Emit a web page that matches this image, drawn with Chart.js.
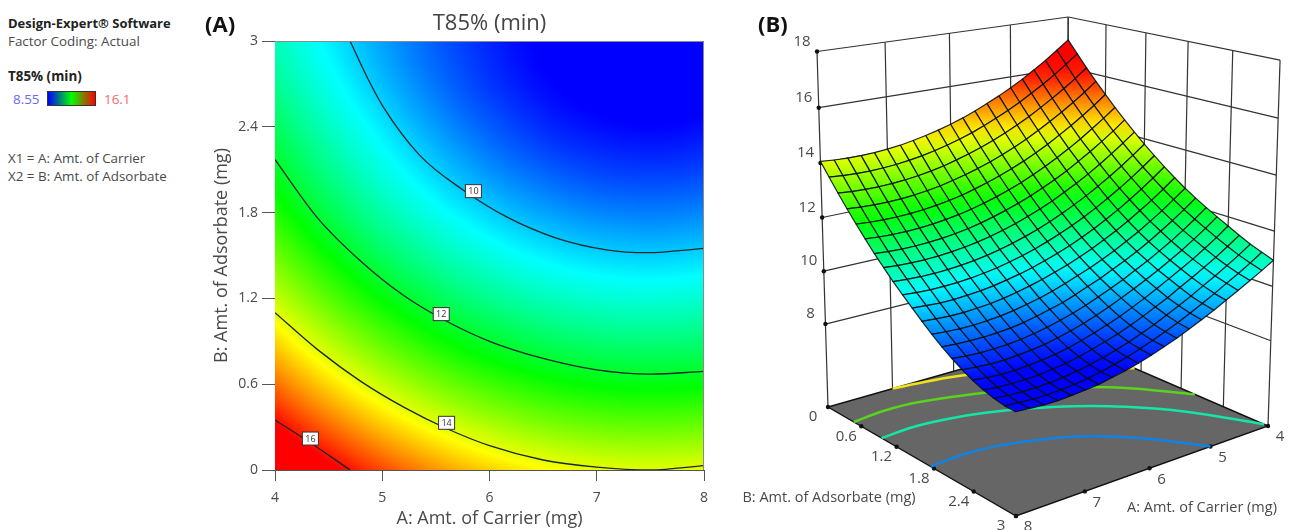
<!DOCTYPE html>
<html>
<head>
<meta charset="utf-8">
<title>T85% (min)</title>
<script src="https://cdn.jsdelivr.net/npm/chart.js@4"></script>
<style>
  html, body { margin: 0; padding: 0; background: #fff; overflow: hidden; }
  body { width: 1291px; height: 530px; position: relative; font-family: "Open Sans", sans-serif; }
  canvas { position: absolute; top: 0; }
  .t { position: absolute; white-space: nowrap; color: #4a4a4a; font-size: 13.4px; line-height: 16px; }
  .b { font-weight: 700; color: #222; }
  .panel { font-size: 22px; line-height: 28px; font-weight: 700; color: #111; }
  #bar { position: absolute; left: 47px; top: 91px; width: 47px; height: 13px; border: 1px solid #333;
         background: linear-gradient(to right, #0000ff, #00ff00 50%, #ff0000); }
</style>
</head>
<body>
<div class="t b" style="left:8px;top:15px;font-size:13px">Design-Expert® Software</div>
<div class="t" style="left:8px;top:33px">Factor Coding: Actual</div>
<div class="t b" style="left:8px;top:68px">T85% (min)</div>
<div class="t" style="left:13px;top:91px;color:#6a6af5">8.55</div>
<div id="bar"></div>
<div class="t" style="left:104px;top:91px;color:#f56a6a">16.1</div>
<div class="t" style="left:8px;top:150px">X1 = A: Amt. of Carrier</div>
<div class="t" style="left:8px;top:168px">X2 = B: Amt. of Adsorbate</div>
<canvas id="contourChart" width="580" height="530" style="left:200px"></canvas>
<canvas id="surfaceChart" width="551" height="530" style="left:740px"></canvas>
<div class="t panel" style="left:205px;top:9px">(A)</div>
<div class="t panel" style="left:758px;top:9px">(B)</div>
<script>
// factor levels of the table below
const aValues = [4, 4.2, 4.4, 4.6, 4.8, 5, 5.2, 5.4, 5.6, 5.8, 6, 6.2, 6.4, 6.6, 6.8, 7, 7.2, 7.4, 7.6, 7.8, 8];
const bValues = [0, 0.15, 0.3, 0.45, 0.6, 0.75, 0.9, 1.05, 1.2, 1.35, 1.5, 1.65, 1.8, 1.95, 2.1, 2.25, 2.4, 2.55, 2.7, 2.85, 3];

// T85%, one row per bValues entry
const t85 = [
  [17.10,16.76,16.43,16.13,15.84,15.58,15.34,15.12,14.91,14.73,14.57,14.43,14.31,14.21,14.12,14.06,14.02,14.00,14.00,14.02,14.06],
  [16.63,16.29,15.96,15.66,15.38,15.11,14.87,14.65,14.45,14.26,14.10,13.96,13.84,13.74,13.66,13.60,13.56,13.54,13.54,13.56,13.60],
  [16.17,15.82,15.50,15.20,14.92,14.65,14.41,14.19,13.99,13.81,13.65,13.51,13.38,13.28,13.20,13.14,13.10,13.08,13.08,13.10,13.14],
  [15.73,15.38,15.06,14.76,14.48,14.22,13.97,13.75,13.55,13.37,13.21,13.07,12.95,12.84,12.76,12.70,12.66,12.64,12.64,12.66,12.70],
  [15.31,14.96,14.64,14.34,14.06,13.79,13.55,13.33,13.13,12.95,12.79,12.65,12.52,12.42,12.34,12.28,12.24,12.22,12.22,12.24,12.28],
  [14.90,14.56,14.24,13.93,13.65,13.39,13.15,12.93,12.72,12.54,12.38,12.24,12.12,12.02,11.94,11.88,11.84,11.82,11.82,11.84,11.88],
  [14.52,14.17,13.85,13.55,13.27,13.00,12.76,12.54,12.34,12.16,12.00,11.86,11.73,11.63,11.55,11.49,11.45,11.43,11.43,11.45,11.49],
  [14.15,13.81,13.49,13.18,12.90,12.64,12.40,12.17,11.97,11.79,11.63,11.49,11.37,11.27,11.19,11.13,11.09,11.07,11.07,11.09,11.13],
  [13.79,13.45,13.13,12.83,12.55,12.29,12.05,11.83,11.62,11.44,11.28,11.14,11.02,10.92,10.84,10.78,10.74,10.72,10.72,10.74,10.78],
  [13.46,13.12,12.80,12.50,12.22,11.96,11.72,11.50,11.30,11.12,10.96,10.82,10.70,10.60,10.52,10.46,10.42,10.40,10.40,10.42,10.46],
  [13.15,12.81,12.49,12.19,11.91,11.65,11.41,11.19,10.99,10.82,10.66,10.52,10.40,10.30,10.21,10.15,10.11,10.08,10.08,10.11,10.15],
  [12.85,12.51,12.19,11.90,11.62,11.36,11.13,10.91,10.71,10.53,10.38,10.23,10.11,10.00,9.91,9.84,9.80,9.77,9.77,9.80,9.84],
  [12.57,12.24,11.92,11.63,11.35,11.10,10.86,10.65,10.45,10.28,10.11,9.95,9.82,9.72,9.62,9.55,9.51,9.48,9.48,9.51,9.55],
  [12.32,11.99,11.68,11.39,11.11,10.86,10.63,10.42,10.21,10.03,9.85,9.69,9.57,9.45,9.35,9.28,9.24,9.22,9.22,9.24,9.28],
  [12.09,11.76,11.45,11.16,10.90,10.65,10.42,10.19,9.99,9.80,9.62,9.46,9.33,9.21,9.11,9.04,8.99,8.97,8.97,8.99,9.04],
  [11.87,11.55,11.25,10.96,10.70,10.45,10.22,10.00,9.79,9.59,9.41,9.25,9.11,8.99,8.89,8.83,8.78,8.75,8.75,8.78,8.83],
  [11.66,11.34,11.05,10.77,10.52,10.28,10.04,9.81,9.60,9.40,9.23,9.07,8.93,8.80,8.71,8.64,8.59,8.56,8.56,8.59,8.64],
  [11.45,11.15,10.86,10.60,10.35,10.11,9.86,9.65,9.44,9.24,9.07,8.92,8.78,8.66,8.56,8.50,8.44,8.42,8.42,8.44,8.50],
  [11.26,10.97,10.70,10.44,10.20,9.95,9.73,9.51,9.30,9.12,8.94,8.79,8.66,8.55,8.46,8.39,8.34,8.32,8.32,8.34,8.39],
  [11.10,10.82,10.56,10.32,10.07,9.84,9.61,9.40,9.21,9.03,8.87,8.71,8.59,8.47,8.39,8.32,8.28,8.25,8.25,8.28,8.32],
  [10.95,10.69,10.45,10.21,9.98,9.75,9.54,9.34,9.14,8.98,8.81,8.67,8.55,8.46,8.36,8.31,8.27,8.24,8.24,8.27,8.31]
];

// contour lines of panel A, [A, B] pairs
const contour10 = [[4.70,3],[4.85,2.76],[5.0,2.55],[5.35,2.2],[5.75,1.96],[6.16,1.77],[6.63,1.62],[7.09,1.54],[7.47,1.52],[8,1.55]];
const contour12 = [[4,2.17],[4.4,1.76],[4.8,1.46],[5.2,1.22],[5.6,1.04],[6,0.9],[6.5,0.78],[7,0.7],[7.5,0.67],[8,0.69]];
const contour14 = [[4,1.1],[4.4,0.84],[4.8,0.62],[5.2,0.44],[5.6,0.29],[6,0.17],[6.5,0.07],[7,0.02],[7.5,0],[8,0.03]];
const contour16 = [[4,0.35],[4.33,0.19],[4.7,0]];
const labelLevels = ['10', '12', '14', '16'];
const labelA = [5.85, 5.55, 5.6, 4.33];
const labelB = [1.95, 1.09, 0.33, 0.22];

// contour lines on the floor of panel B, [A, B] pairs
const floorBlue = [[8,1.75],[7.5,1.72],[7,1.77],[6.5,1.9],[6,2.1],[5.5,2.45],[5,3]];
const floorTeal = [[8,0.95],[7.5,0.92],[7,0.97],[6.5,1.08],[6,1.25],[5.5,1.48],[5,1.8],[4.5,2.25],[4,2.95]];
const floorGreen = [[8,0.47],[7.5,0.42],[7,0.45],[6,0.7],[5.5,0.9],[5,1.15],[4.5,1.5],[4,2.0]];
const floorYellow = [[7,0],[6.5,0.06],[6,0.15],[5,0.5],[4,1.1]];

const aTicks = [4, 5, 6, 7, 8];
const bTicks = [0, 0.6, 1.2, 1.8, 2.4, 3];
const zTicks = [8, 10, 12, 14, 16, 18];

const FONT = '"Open Sans", sans-serif';
const TEXT = '#4a4a4a';
const Z_MIN = 8.55, Z_MAX = 16.1;

// blue - cyan - green - yellow - red
function rainbow(z) {
    const t = Math.max(0, Math.min(1, (z - Z_MIN) / (Z_MAX - Z_MIN))) * 4;
    if (t < 1) return [0, 255 * t, 255];
    if (t < 2) return [0, 255, 255 * (2 - t)];
    if (t < 3) return [255 * (t - 2), 255, 0];
    return [255, 255 * (4 - t), 0];
}
function css(c) {
    return 'rgb(' + Math.round(c[0]) + ',' + Math.round(c[1]) + ',' + Math.round(c[2]) + ')';
}
function sample(a, b) {
    const fi = Math.max(0, Math.min(19.999, (a - aValues[0]) / 0.2));
    const fj = Math.max(0, Math.min(19.999, (b - bValues[0]) / 0.15));
    const i = Math.floor(fi), j = Math.floor(fj), s = fi - i, r = fj - j;
    return (t85[j][i] * (1 - s) + t85[j][i + 1] * s) * (1 - r) + (t85[j + 1][i] * (1 - s) + t85[j + 1][i + 1] * s) * r;
}
function xy(pairs) {
    return pairs.map(p => ({x: p[0], y: p[1]}));
}
function contourSet(pairs) {
    return {data: xy(pairs), borderColor: '#16282c', borderWidth: 1.3, pointRadius: 0, cubicInterpolationMode: 'monotone', fill: false};
}

// Panel A: colour field under the contour lines, then frame and labels
const fieldPlugin = {
    id: 'contourField',
    beforeDatasetsDraw: (chart) => {
        const {ctx, chartArea: area, scales} = chart;
        const w = Math.round(area.right - area.left), h = Math.round(area.bottom - area.top);
        const off = document.createElement('canvas');
        off.width = w; off.height = h;
        const octx = off.getContext('2d');
        const img = octx.createImageData(w, h);
        for (let py = 0; py < h; py++) {
            const b = scales.y.getValueForPixel(area.top + py + 0.5);
            for (let px = 0; px < w; px++) {
                const a = scales.x.getValueForPixel(area.left + px + 0.5);
                const c = rainbow(sample(a, b));
                const k = (py * w + px) * 4;
                img.data[k] = c[0]; img.data[k + 1] = c[1]; img.data[k + 2] = c[2]; img.data[k + 3] = 255;
            }
        }
        octx.putImageData(img, 0, 0);
        ctx.drawImage(off, area.left, area.top);
    },
    afterDatasetsDraw: (chart) => {
        const {ctx, chartArea: area, scales} = chart;
        ctx.save();
        ctx.strokeStyle = '#8a8a8a';
        ctx.lineWidth = 1;
        ctx.beginPath();
        ctx.moveTo(area.left, area.top + 0.5);
        ctx.lineTo(area.right - 0.5, area.top + 0.5);
        ctx.lineTo(area.right - 0.5, area.bottom);
        ctx.stroke();
        ctx.font = '9px ' + FONT;
        ctx.textAlign = 'center';
        ctx.textBaseline = 'middle';
        labelLevels.forEach((txt, n) => {
            const x = scales.x.getPixelForValue(labelA[n]), y = scales.y.getPixelForValue(labelB[n]);
            ctx.fillStyle = '#fff';
            ctx.strokeStyle = '#333';
            ctx.fillRect(x - 8, y - 6.5, 16, 13);
            ctx.strokeRect(x - 8, y - 6.5, 16, 13);
            ctx.fillStyle = '#333';
            ctx.fillText(txt, x, y + 0.5);
        });
        // title sits over the plot, not over the whole canvas
        ctx.fillStyle = '#444';
        ctx.font = '22px ' + FONT;
        ctx.fillText('T85% (min)', (area.left + area.right) / 2, area.top - 17);
        ctx.restore();
    }
};

new Chart(document.getElementById('contourChart').getContext('2d'), {
    type: 'line',
    data: {datasets: [contourSet(contour10), contourSet(contour12), contourSet(contour14), contourSet(contour16)]},
    options: {
        responsive: false,
        animation: false,
        parsing: false,
        layout: {padding: {right: 76, top: 41}},
        plugins: {
            legend: {display: false},
            tooltip: {enabled: false}
        },
        scales: {
            x: {
                type: 'linear', min: 4, max: 8,
                afterFit: s => { s.height = 60; },
                ticks: {stepSize: 1, color: TEXT, font: {family: FONT, size: 14}, padding: 9, maxRotation: 0},
                grid: {drawOnChartArea: false, tickLength: 11, color: '#555'},
                border: {color: '#555'},
                title: {display: true, text: 'A: Amt. of Carrier (mg)', color: TEXT, font: {family: FONT, size: 18}, padding: {top: 0, bottom: 0}}
            },
            y: {
                type: 'linear', min: 0, max: 3,
                afterFit: s => { s.width = 75; },
                ticks: {stepSize: 0.6, color: TEXT, font: {family: FONT, size: 14}, padding: 4,
                        callback: v => String(Math.round(v * 10) / 10)},
                grid: {drawOnChartArea: false, tickLength: 13, color: '#555'},
                border: {color: '#555'},
                title: {display: true, text: 'B: Amt. of Adsorbate (mg)', color: TEXT, font: {family: FONT, size: 18}, padding: {top: 11, bottom: 0}}
            }
        }
    },
    plugins: [fieldPlugin]
});

// Panel B: box corners on the page, everything else goes through project()
const box = {back: [1067, 339], left: [828, 407], front: [1016, 516], right: [1268, 426], backTopY: 17};
const vanish = [1041, 7300];   // where the box's vertical edges meet, far below the page
const Z_FLOOR = 4.8, Z_TOP = 18;
const cam = (function () {
    const [x0, y0] = box.back, [x1, y1] = box.left, [x2, y2] = box.front, [x3, y3] = box.right;
    const dx1 = x1 - x2, dx2 = x3 - x2, sx = x0 - x1 + x2 - x3;
    const dy1 = y1 - y2, dy2 = y3 - y2, sy = y0 - y1 + y2 - y3;
    const den = dx1 * dy2 - dx2 * dy1;
    const g = (sx * dy2 - dx2 * sy) / den, h = (dx1 * sy - sx * dy1) / den;
    const a = x1 - x0 + g * x1, b = x3 - x0 + h * x3, d = y1 - y0 + g * y1, e = y3 - y0 + h * y3;
    const i = (box.backTopY - y0) / (vanish[1] - box.backTopY);
    return {a, b, c: x0, d, e, f: y0, g, h, i, p: vanish[0] * i, q: vanish[1] * i};
})();
function project(A, B, z) {
    const u = (A - 4) / 4, v = B / 3, w = (z - Z_FLOOR) / (Z_TOP - Z_FLOOR);
    const n = cam.g * u + cam.h * v + cam.i * w + 1;
    return {x: (cam.a * u + cam.b * v + cam.c + cam.p * w) / n, y: (cam.d * u + cam.e * v + cam.f + cam.q * w) / n};
}
function floorSet(pairs, color) {
    return {
        data: pairs.map(p => project(p[0], p[1], Z_FLOOR)),
        borderColor: color, borderWidth: 2.5, pointRadius: 0, tension: 0.4, fill: false
    };
}

const boxPlugin = {
    id: 'surfaceBox',
    beforeDatasetsDraw: (chart) => {
        const {ctx, scales} = chart;
        const pt = (A, B, z) => {
            const p = project(A, B, z);
            return [scales.x.getPixelForValue(p.x), scales.y.getPixelForValue(p.y)];
        };
        const line = (p, q) => { ctx.beginPath(); ctx.moveTo(p[0], p[1]); ctx.lineTo(q[0], q[1]); ctx.stroke(); };
        ctx.save();
        ctx.strokeStyle = '#333';
        ctx.lineWidth = 1.2;
        zTicks.forEach(z => {
            line(pt(8, 0, z), pt(4, 0, z));
            line(pt(4, 0, z), pt(4, 3, z));
        });
        aTicks.forEach(A => line(pt(A, 0, Z_FLOOR), pt(A, 0, Z_TOP)));
        bTicks.forEach(B => line(pt(4, B, Z_FLOOR), pt(4, B, Z_TOP)));
        // floor
        ctx.fillStyle = '#666';
        ctx.strokeStyle = '#111';
        ctx.lineWidth = 1.4;
        ctx.beginPath();
        [pt(4, 0, Z_FLOOR), pt(8, 0, Z_FLOOR), pt(8, 3, Z_FLOOR), pt(4, 3, Z_FLOOR)].forEach((p, n) => {
            if (n) ctx.lineTo(p[0], p[1]); else ctx.moveTo(p[0], p[1]);
        });
        ctx.closePath();
        ctx.fill();
        ctx.stroke();
        // tick dots and tick labels
        const dot = p => { ctx.fillStyle = '#111'; ctx.beginPath(); ctx.arc(p[0], p[1], 2.2, 0, 7); ctx.fill(); };
        const tag = (txt, p, ox, oy) => { ctx.fillStyle = TEXT; ctx.fillText(txt, p[0] + ox, p[1] + oy); };
        ctx.font = '15px ' + FONT;
        ctx.textAlign = 'center';
        ctx.textBaseline = 'middle';
        zTicks.forEach(z => { const p = pt(8, 0, z); dot(p); tag(String(z), p, -15, -10); });
        aTicks.forEach(A => { const p = pt(A, 3, Z_FLOOR); dot(p); tag(String(A), p, 12, 11); });
        bTicks.forEach(B => { const p = pt(8, B, Z_FLOOR); dot(p); tag(String(B), p, -15, 10); });
        ctx.translate(783, 258);
        ctx.rotate(-Math.PI / 2);
        ctx.fillStyle = TEXT;
        ctx.fillText('T85% (min)', 0, 0);
        ctx.restore();
        ctx.save();
        ctx.font = '14.5px ' + FONT;
        ctx.fillStyle = TEXT;
        ctx.textAlign = 'center';
        ctx.textBaseline = 'middle';
        ctx.fillText('B: Amt. of Adsorbate (mg)', scales.x.getPixelForValue(829), scales.y.getPixelForValue(498));
        ctx.fillText('A: Amt. of Carrier (mg)', scales.x.getPixelForValue(1202), scales.y.getPixelForValue(508));
        ctx.restore();
    },
    afterDatasetsDraw: (chart) => {
        const {ctx, scales} = chart;
        const pt = (i, j) => {
            const p = project(aValues[i], bValues[j], t85[j][i]);
            return [scales.x.getPixelForValue(p.x), scales.y.getPixelForValue(p.y)];
        };
        ctx.save();
        ctx.strokeStyle = 'rgba(5,15,15,0.9)';
        ctx.lineWidth = 1.2;
        ctx.lineJoin = 'round';
        // back corner first so the nearer cells paint over the farther ones
        for (let i = 0; i < aValues.length - 1; i++) {
            for (let j = 0; j < bValues.length - 1; j++) {
                const q = [pt(i, j), pt(i + 1, j), pt(i + 1, j + 1), pt(i, j + 1)];
                const zs = [t85[j][i], t85[j][i + 1], t85[j + 1][i + 1], t85[j + 1][i]];
                const hi = Math.max(...zs), lo = Math.min(...zs);
                const top = Math.min(q[0][1], q[1][1], q[2][1], q[3][1]);
                const bottom = Math.max(q[0][1], q[1][1], q[2][1], q[3][1]);
                const grad = ctx.createLinearGradient(0, top, 0, bottom);
                grad.addColorStop(0, css(rainbow(hi)));
                grad.addColorStop(1, css(rainbow(lo)));
                ctx.fillStyle = grad;
                ctx.beginPath();
                ctx.moveTo(q[0][0], q[0][1]);
                ctx.lineTo(q[1][0], q[1][1]);
                ctx.lineTo(q[2][0], q[2][1]);
                ctx.lineTo(q[3][0], q[3][1]);
                ctx.closePath();
                ctx.fill();
                ctx.stroke();
            }
        }
        ctx.restore();
    }
};

new Chart(document.getElementById('surfaceChart').getContext('2d'), {
    type: 'line',
    data: {
        datasets: [
            floorSet(floorBlue, '#0f82e6'),
            floorSet(floorTeal, '#14e6a8'),
            floorSet(floorGreen, '#5ad21e'),
            floorSet(floorYellow, '#f2e21a')
        ]
    },
    options: {
        responsive: false,
        animation: false,
        parsing: false,
        plugins: {legend: {display: false}, tooltip: {enabled: false}},
        scales: {
            x: {type: 'linear', display: false, min: 740, max: 1291},
            y: {type: 'linear', display: false, min: 0, max: 530, reverse: true}
        }
    },
    plugins: [boxPlugin]
});
</script>
</body>
</html>
